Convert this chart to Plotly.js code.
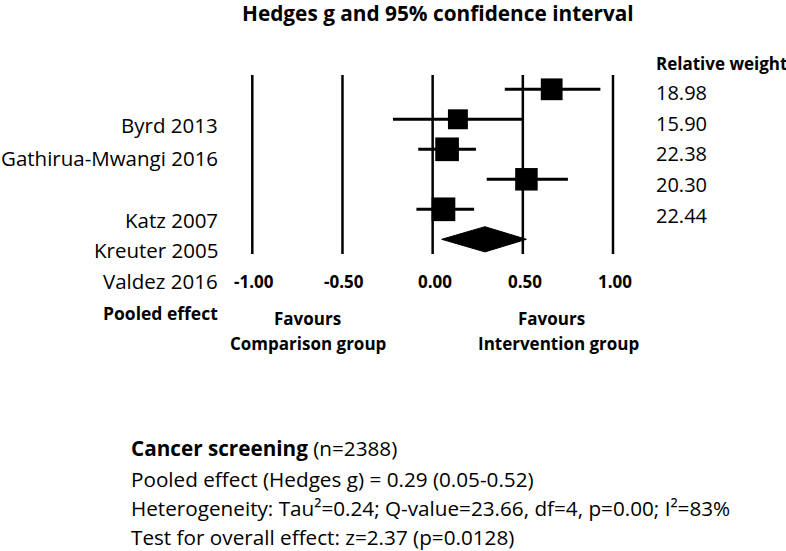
<!DOCTYPE html>
<html>
<head>
<meta charset="utf-8">
<script src="https://cdn.plot.ly/plotly-3.0.1.min.js"></script>
<style>
  html, body { margin: 0; padding: 0; background: #fff; }
  #chart { width: 786px; height: 551px; }
</style>
</head>
<body>
<div id="chart"></div>
<script>
// Study rows (top to bottom)
const studyNames = ['Byrd 2013', 'Gathirua-Mwangi 2016', 'Katz 2007', 'Kreuter 2005', 'Valdez 2016'];
const hedgesG = [0.66, 0.14, 0.08, 0.52, 0.06];
const ciLower = [0.40, -0.22, -0.08, 0.30, -0.09];
const ciUpper = [0.93, 0.50, 0.24, 0.75, 0.23];
const relWeight = [18.98, 15.90, 22.38, 20.30, 22.44];

// Pooled effect
const pooledG = 0.29;
const pooledLower = 0.05;
const pooledUpper = 0.52;

const tickValues = [-1, -0.5, 0, 0.5, 1];

const summaryLines = [
    '<b>Cancer screening</b> (n=2388)',
    'Pooled effect (Hedges g) = 0.29 (0.05-0.52)',
    'Heterogeneity: Tau²=0.24; Q-value=23.66, df=4, p=0.00; I²=83%',
    'Test for overall effect: z=2.37 (p=0.0128)'
];

const FONT = '"Open Sans", Lato, sans-serif';
const W = 786, H = 551;
// pixel -> paper helpers for the free-standing text
const px = p => p / W;
const py = p => 1 - p / H;

const rows = studyNames.map((_, i) => i + 1);
const pooledRow = rows.length + 1;

// squares with horizontal CI lines, square area follows weight
const studyTrace = {
    x: hedgesG,
    y: rows,
    type: 'scatter',
    mode: 'markers',
    marker: {
        symbol: 'square',
        color: '#000',
        opacity: 1,
        size: relWeight.map(w => 5 * Math.sqrt(w)),
        line: { width: 0 }
    },
    error_x: {
        type: 'data',
        symmetric: false,
        array: hedgesG.map((g, i) => ciUpper[i] - g),
        arrayminus: hedgesG.map((g, i) => g - ciLower[i]),
        color: '#000',
        thickness: 3,
        width: 0
    },
    hoverinfo: 'skip',
    showlegend: false
};

// pooled diamond
const dh = 0.42;
const diamondTrace = {
    x: [pooledLower, pooledG, pooledUpper, pooledG, pooledLower],
    y: [pooledRow, pooledRow - dh, pooledRow, pooledRow + dh, pooledRow],
    type: 'scatter',
    mode: 'lines',
    fill: 'toself',
    fillcolor: '#000',
    line: { color: '#000', width: 1 },
    hoverinfo: 'skip',
    showlegend: false
};

const shapes = tickValues.map(v => ({
    type: 'line',
    xref: 'x', yref: 'paper',
    x0: v, x1: v,
    y0: py(254), y1: py(75),
    line: { color: '#000', width: 2.5 }
}));

const annotations = [];
function addText(text, x, y, anchor, size, extra) {
    annotations.push(Object.assign({
        text: text,
        xref: 'paper', yref: 'paper',
        x: x, y: y,
        xanchor: anchor, yanchor: 'middle',
        showarrow: false,
        font: { family: FONT, size: size, color: '#000' }
    }, extra || {}));
}

// title
addText('<b>Hedges g and 95% confidence interval</b>', px(438), py(13), 'center', 20.8);

// tick labels under the reference lines
tickValues.forEach(v => {
    addText('<b>' + v.toFixed(2) + '</b>', v, py(281), 'center', 17, { xref: 'x', xshift: 2 });
});

// study labels (they sit offset from the rows in the original)
const labelY = [125, 158, 220, 250, 281];
studyNames.forEach((name, i) => addText(name, px(220), py(labelY[i]), 'right', 20.5));
addText('<b>Pooled effect</b>', px(220), py(313), 'right', 17.5);

// relative weights
addText('<b>Relative weight</b>', px(654), py(63), 'left', 17);
relWeight.forEach((w, i) => {
    addText(w.toFixed(2), px(654), rows[i], 'left', 20, { yref: 'y', yshift: -(3 + i * 0.7) });
});

// favours
addText('<b>Favours</b>', px(307), py(318), 'center', 17);
addText('<b>Comparison group</b>', px(308), py(343), 'center', 17);
addText('<b>Favours</b>', px(551), py(318), 'center', 17);
addText('<b>Intervention group</b>', px(558), py(343), 'center', 17);

// summary block
const summaryY = [448, 479, 508, 537];
summaryLines.forEach((t, i) => addText(t, px(129), py(summaryY[i]), 'left', 20.7));

// axes mapped so that -1 and 1 land on the original reference lines
const xPerPx = 2 / (613 - 252.3);
const yPerPx = 1 / 30;
const layout = {
    width: W,
    height: H,
    margin: { l: 0, r: 0, t: 0, b: 0, pad: 0 },
    paper_bgcolor: '#fff',
    plot_bgcolor: '#fff',
    xaxis: {
        range: [-1 - 252.3 * xPerPx, 1 + (W - 613) * xPerPx],
        visible: false,
        fixedrange: true
    },
    yaxis: {
        range: [1 + (H - 89.3) * yPerPx, 1 - 89.3 * yPerPx],
        visible: false,
        fixedrange: true
    },
    shapes: shapes,
    annotations: annotations,
    showlegend: false
};

Plotly.newPlot('chart', [diamondTrace, studyTrace], layout, { staticPlot: true, displayModeBar: false });
</script>
</body>
</html>
